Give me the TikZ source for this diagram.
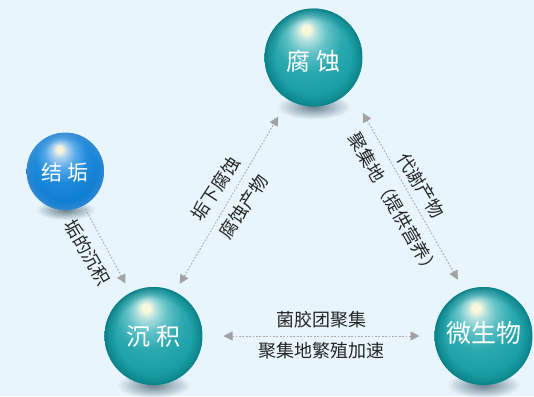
\documentclass[tikz,border=0pt]{standalone}
\usepackage{fontspec}
\setmainfont{Noto Sans CJK SC}
\usetikzlibrary{arrows.meta,fadings,shadings}
\definecolor{bg}{HTML}{E8F5FC}
\definecolor{thl}{HTML}{FAF8DA}
\definecolor{tc1}{HTML}{B2E0DF}
\definecolor{tc2}{HTML}{62C2C7}
\definecolor{tc3}{HTML}{2BA9B0}
\definecolor{tc4}{HTML}{1A9EA5}
\definecolor{tc5}{HTML}{15979E}
\definecolor{trim}{HTML}{07787F}
\definecolor{bhl}{HTML}{F6F4DA}
\definecolor{bc1}{HTML}{A8D0F0}
\definecolor{bc2}{HTML}{55A8E8}
\definecolor{bc3}{HTML}{1E8ADB}
\definecolor{bc4}{HTML}{0E7ED2}
\definecolor{bc5}{HTML}{0A76CA}
\definecolor{brim}{HTML}{3D8FD6}
\definecolor{arrgray}{HTML}{ABABAB}
\definecolor{tipgray}{HTML}{A2A2A2}
\definecolor{labtext}{HTML}{262626}
\definecolor{shadowcol}{HTML}{3F5A6A}
\pgfdeclareradialshading{tealsph}{\pgfpoint{-4bp}{15bp}}{color(0bp)=(thl); color(2bp)=(thl); color(5bp)=(tc1); color(10bp)=(tc2); color(17bp)=(tc3); color(26bp)=(tc4); color(40bp)=(tc5); color(50bp)=(tc5)}
\pgfdeclareradialshading{bluesph}{\pgfpoint{-4bp}{15bp}}{color(0bp)=(bhl); color(2bp)=(bhl); color(5bp)=(bc1); color(10bp)=(bc2); color(17bp)=(bc3); color(26bp)=(bc4); color(40bp)=(bc5); color(50bp)=(bc5)}
\pgfdeclareradialshading{rimshade}{\pgfpointorigin}{color(0bp)=(black); color(19bp)=(black); color(23.5bp)=(black!50); color(25bp)=(black!15); color(50bp)=(black!15)}
\pgfdeclarefading{rimfade}{\pgfuseshading{rimshade}}
\pgfdeclareradialshading{softshade}{\pgfpointorigin}{color(0bp)=(black!25); color(25bp)=(black); color(50bp)=(black)}
\pgfdeclarefading{softfade}{\pgfuseshading{softshade}}
\tikzset{
  ball/.style={circle, inner sep=0pt, outer sep=0pt, minimum size=#1, text=white},
  tealball/.style={ball=98pt, shade, shading=tealsph,
    path picture={\fill[trim, path fading=rimfade] (path picture bounding box.south west) rectangle (path picture bounding box.north east);},
    font=\fontsize{24}{28}\selectfont},
  blueball/.style={ball=77.4pt, shade, shading=bluesph,
    path picture={\fill[brim, path fading=rimfade] (path picture bounding box.south west) rectangle (path picture bounding box.north east);},
    font=\fontsize{21}{25}\selectfont},
  shadowblob/.style={fill=shadowcol, path fading=softfade},
  lab/.style={text=labtext, inner sep=0pt, font=\fontsize{18}{21}\selectfont},
  arr/.style={draw=arrgray, line width=0.9pt, dash pattern=on 1.8pt off 1.6pt,
    >={Triangle[length=9pt,width=9pt,color=tipgray]}},
}
\begin{document}
\begin{tikzpicture}[x=1pt,y=-1pt]
\fill[bg] (0,0) rectangle (534,396);
\useasboundingbox (0,0) rectangle (534,396);
% shadows
\fill[shadowblob] (313.5,106.5) ellipse (37 and 13);
\fill[shadowblob] (153.5,385) ellipse (37 and 13);
\fill[shadowblob] (483.5,385) ellipse (37 and 13);
\fill[shadowblob] (65.3,210) ellipse (30 and 10);
% spheres
\node[tealball] (fushi) at (313.5,57.5) {\raisebox{-3.5pt}[\height][\depth]{腐 蚀}};
\node[blueball] (jiegou) at (65.3,171.3) {\raisebox{-1.5pt}[\height][\depth]{结 垢}};
\node[tealball] (chenji) at (153.5,336) {沉 积};
\node[tealball, font=\fontsize{25}{28}\selectfont] (wsw) at (483.5,336) {\raisebox{2.5pt}[\height][\depth]{微生物}};
% connectors
\draw[arr, ->, shorten <=4pt, shorten >=10.5pt] (jiegou) -- (chenji);
\draw[arr, <->, shorten <=9.5pt, shorten >=19.9pt] (chenji.64) -- (fushi.-121);
\draw[arr, <->, shorten <=26pt, shorten >=13pt] (fushi.-42) -- (wsw.113);
\draw[arr, <->, shorten <=21pt, shorten >=15pt] (chenji) -- (wsw);
% labels
\node[lab, rotate=-60] (la) at (87.5,252.5) {垢的沉积};
\node[lab, rotate=57] (lb) at (215.5,188.5) {垢下腐蚀};
\node[lab, rotate=57] (lc) at (243.8,206.5) {腐蚀产物};
\node[lab, rotate=-59] (ld) at (421,185.5) {代谢产物};
\node[lab, rotate=-60] (le) at (394.3,204.3) {聚集地（提供营养）};
\node[lab] (lf) at (321.5,320) {菌胶团聚集};
\node[lab] (lg) at (321.8,350.8) {聚集地繁殖加速};
\end{tikzpicture}
\end{document}
